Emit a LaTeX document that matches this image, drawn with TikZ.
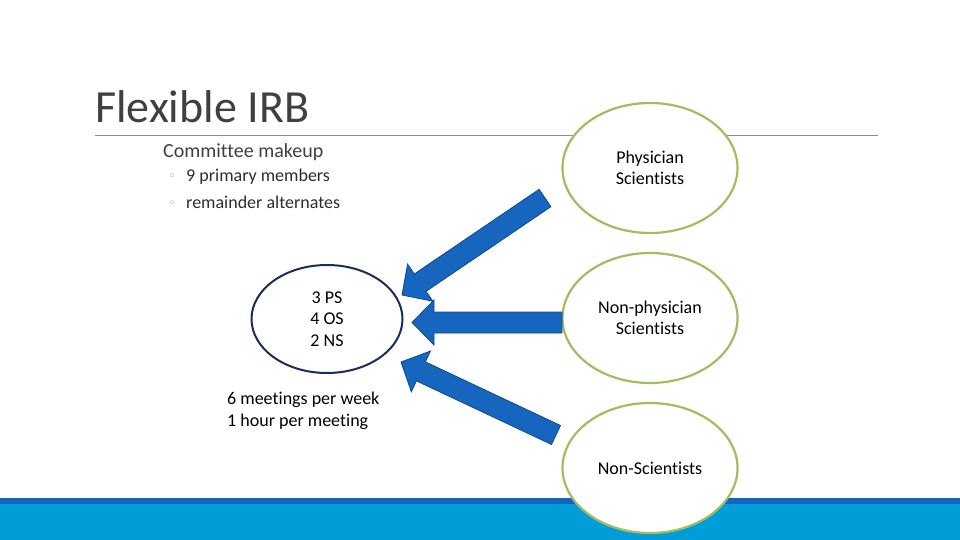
\documentclass[tikz,border=0pt]{standalone}
\usepackage{fontspec}
\setmainfont{Carlito}[Ligatures={NoCommon}]
\newfontfamily\symfont{DejaVu Sans}
\usetikzlibrary{calc,shapes.geometric}

\definecolor{textgray}{RGB}{64,64,64}
\definecolor{itemgray}{RGB}{45,45,45}
\definecolor{rulegray}{RGB}{140,140,140}
\definecolor{barblue}{RGB}{0,157,217}
\definecolor{bardark}{RGB}{21,101,192}
\definecolor{arrowblue}{RGB}{22,102,192}
\definecolor{arrowedge}{RGB}{16,72,140}
\definecolor{navy}{RGB}{25,45,88}
\definecolor{olive}{RGB}{160,190,95}
\definecolor{bulletblue}{RGB}{110,160,195}

\newcommand{\blockarrow}[2]{%
	\coordinate (hb) at ($(#2)!22pt!(#1)$);
	\filldraw[blockfill] ($(#1)!10.5pt!90:(#2)$) -- ($(hb)!10.5pt!90:(#2)$) -- ($(hb)!22.5pt!90:(#2)$) -- (#2)
		-- ($(hb)!22.5pt!-90:(#2)$) -- ($(hb)!10.5pt!-90:(#2)$) -- ($(#1)!10.5pt!-90:(#2)$) -- cycle;
}

\begin{document}
\begin{tikzpicture}[x=1pt,y=-1pt,
		blockfill/.style={fill=arrowblue,draw=arrowedge,line width=0.8pt,line join=miter},
		group/.style={ellipse,draw=olive,fill=white,line width=2.2pt,minimum width=175pt,minimum height=130pt,
			inner sep=0pt,align=center,font=\fontsize{18}{21}\selectfont},
		bodytext/.style={anchor=base west,font=\fontsize{18}{22}\selectfont}]
	
	\useasboundingbox (0,0) rectangle (960,540);
	
	\fill[bardark] (0,498) rectangle (960,504);
	\fill[barblue] (0,504) rectangle (960,540);
	
	\node[anchor=base west,inner sep=0pt,text=textgray,font=\fontsize{46}{50}\selectfont] (title) at (95,123) {Flexible IRB};
	\draw[rulegray,line width=1pt] (95,136) -- (878,136);
	
	\node[anchor=base west,inner sep=0pt,text=textgray,font=\fontsize{20}{24}\selectfont] (makeup) at (163,158) {Committee makeup};
	\node[anchor=base west,inner sep=0pt,text=bulletblue,font=\symfont\fontsize{13}{14}\selectfont] (dot1) at (168,181) {◦};
	\node[anchor=base west,inner sep=0pt,text=itemgray,font=\fontsize{18}{22}\selectfont] (primary) at (186,182) {9 primary members};
	\node[anchor=base west,inner sep=0pt,text=bulletblue,font=\symfont\fontsize{13}{14}\selectfont] (dot2) at (168,207) {◦};
	\node[anchor=base west,inner sep=0pt,text=itemgray,font=\fontsize{18}{22}\selectfont] (alternates) at (186,208) {remainder alternates};
	
	\node[bodytext,inner sep=0pt] (meetings) at (227,404) {6 meetings per week};
	\node[bodytext,inner sep=0pt] (hour) at (227,426) {1 hour per meeting};
	
	\node[ellipse,draw=navy,fill=white,line width=2pt,minimum width=151pt,minimum height=108pt,inner sep=0pt,
		align=center,font=\fontsize{18}{21.5}\selectfont] (core) at (327,319) {3 PS\\4 OS\\2 NS};
	
	\node[group] (phys) at (650,168) {Physician\\Scientists};
	\node[group] (nonphys) at (650,318) {Non-physician\\Scientists};
	\node[group] (nonsci) at (650,468) {Non-Scientists};
	
	\coordinate (physTail) at (545,198);
	\coordinate (physTip) at (402,295);
	\coordinate (nonphysTail) at (562,322.5);
	\coordinate (nonphysTip) at (412,322.5);
	\coordinate (nonsciTail) at (556,435);
	\coordinate (nonsciTip) at (401,362);
	
	\blockarrow{physTail}{physTip}
	\blockarrow{nonphysTail}{nonphysTip}
	\blockarrow{nonsciTail}{nonsciTip}
	
\end{tikzpicture}
\end{document}
